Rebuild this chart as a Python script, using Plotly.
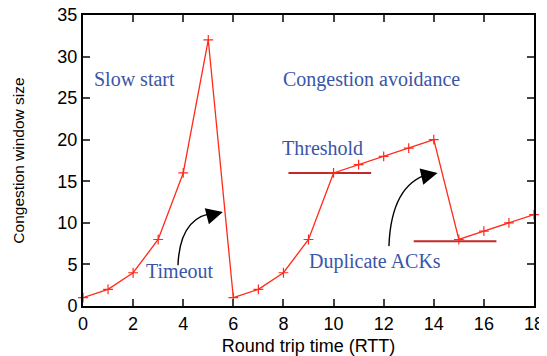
import plotly.graph_objects as go

# RTT rounds and congestion window
rtt = list(range(19))
cwnd = [1, 2, 4, 8, 16, 32, 1, 2, 4, 8, 16, 17, 18, 19, 20, 8, 9, 10, 11]

# threshold segments (x start, x end, level)
thresholds = [(8.2, 11.5, 16), (13.2, 16.5, 7.8)]

x_ticks = list(range(0, 19, 2))
y_ticks = list(range(0, 36, 5))

blue = "#3a55a8"
serif = "Liberation Serif, Times New Roman, serif"
sans = "Liberation Sans, Arial, sans-serif"

fig = go.Figure()

for x0, x1, lvl in thresholds:
    fig.add_trace(go.Scatter(x=[x0, x1], y=[lvl, lvl], mode="lines",
                             line=dict(color="#c0282a", width=2),
                             hoverinfo="skip", showlegend=False))

fig.add_trace(go.Scatter(
    x=rtt, y=cwnd, mode="lines+markers", cliponaxis=False,
    line=dict(color="#ff2a1a", width=1.3),
    marker=dict(symbol="cross-thin", size=7, line=dict(color="#ff2a1a", width=1.2)),
    showlegend=False,
))

# curved arrows (quadratic bezier) + arrowheads
curves = [
    ((3.79, 4.9), (3.87, 10.9), (5.3, 11.2), (5.58, 11.3)),
    ((12.21, 7.2), (12.3, 14.6), (13.8, 15.9), (14.15, 16.0)),
]
for (sx, sy), (cx, cy), (bx, by), (tx, ty) in curves:
    fig.add_shape(type="path", xref="x", yref="y",
                  path=f"M {sx},{sy} Q {cx},{cy} {bx},{by}",
                  line=dict(color="black", width=1.4))
    fig.add_annotation(x=tx, y=ty, ax=bx - 0.3, ay=by - 0.35, xref="x", yref="y",
                       axref="x", ayref="y", text="", showarrow=True,
                       arrowhead=2, arrowsize=2.2, arrowwidth=1.5, arrowcolor="black")

labels = [
    ("Slow start", 2.05, 27.3),
    ("Congestion avoidance", 11.53, 27.3),
    ("Threshold", 9.54, 19.0),
    ("Timeout", 3.87, 4.2),
    ("Duplicate ACKs", 11.65, 5.3),
]
for txt, x, y in labels:
    fig.add_annotation(x=x, y=y, text=txt, showarrow=False,
                       font=dict(family=serif, size=20, color=blue))

axis_common = dict(showline=True, linecolor="black", linewidth=2, mirror="ticks",
                   ticks="inside", ticklen=7, tickwidth=2, showgrid=False,
                   zeroline=False, automargin=False, ticklabeloverflow="allow",
                   tickfont=dict(family=sans, size=18, color="black"))

# page body has an 8px margin, so the figure is a bit smaller than the window
fig.update_layout(
    width=539, height=348,
    margin=dict(l=75, r=13, t=7, b=50),
    plot_bgcolor="white", paper_bgcolor="white",
    xaxis=dict(range=[0, 18], tickvals=x_ticks,
               title=dict(text="Round trip time (RTT)", standoff=11,
                          font=dict(family=sans, size=18, color="black")),
               **axis_common),
    yaxis=dict(range=[0, 35], tickvals=y_ticks,
               title=dict(text="Congestion window size", standoff=29,
                          font=dict(family=sans, size=15.5, color="black")),
               **axis_common),
)

fig.write_html("out.html")
